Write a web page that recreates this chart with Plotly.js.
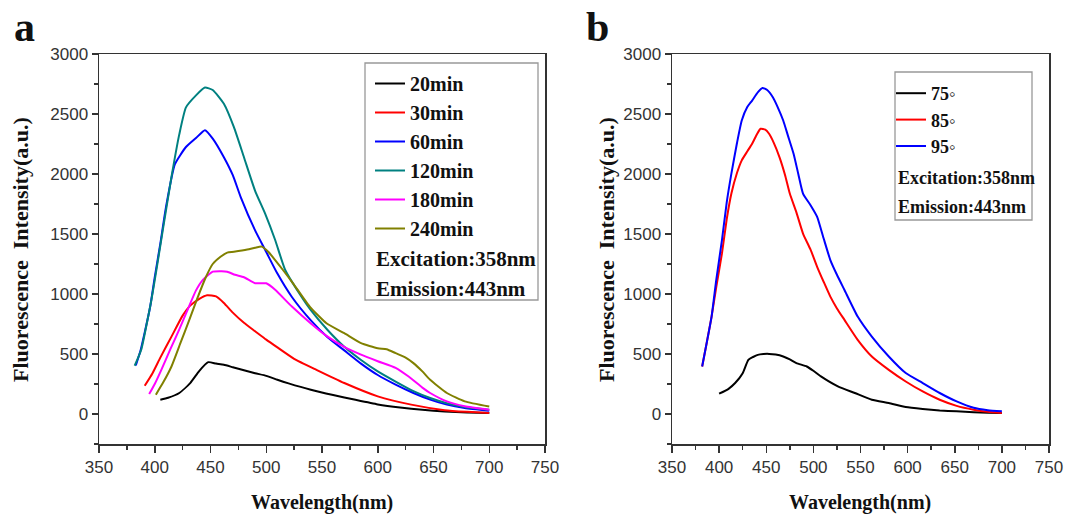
<!DOCTYPE html>
<html>
<head>
<meta charset="utf-8">
<script src="https://cdn.plot.ly/plotly-3.0.1.min.js"></script>
<style>html,body{margin:0;padding:0;background:#fff;}#chart{width:1065px;height:516px;}</style>
</head>
<body>
<div id="chart"></div>
<script>
// ---------- Panel a data (wavelength nm, intensity a.u.) ----------
const namesA = ["20min", "30min", "60min", "120min", "180min", "240min"];
const colorsA = ["#000000", "#ff0000", "#0000ff", "#008080", "#ff00ff", "#808000"];

const x20 = [405, 412, 422, 432, 440, 448, 455, 462, 470, 480, 490, 500, 510, 520, 540, 560, 580, 600, 620, 640, 660, 680, 700];
const y20 = [119, 135, 175, 260, 360, 432, 420, 410, 390, 365, 340, 318, 285, 255, 202, 158, 118, 80, 54, 35, 20, 12, 8];

const x30 = [391, 398, 405, 415, 425, 432, 440, 447, 455, 462, 470, 480, 490, 500, 510, 525, 545, 570, 600, 630, 660, 680, 700];
const y30 = [235, 340, 470, 645, 820, 905, 960, 990, 980, 925, 845, 760, 690, 620, 555, 460, 368, 258, 147, 78, 32, 18, 8];

const x60 = [383, 387, 391, 396, 400, 405, 410, 418, 428, 437, 445, 452, 462, 470, 477, 490, 500, 510, 523, 540, 555, 570, 585, 600, 616, 632, 647, 662, 678, 700];
const y60 = [405, 520, 680, 900, 1140, 1420, 1720, 2080, 2225, 2300, 2365, 2295, 2140, 1990, 1810, 1530, 1350, 1170, 975, 780, 640, 530, 420, 325, 245, 175, 120, 78, 50, 28];

const x120 = [382, 388, 393, 397, 402, 407, 415, 422, 428, 437, 445, 452, 462, 471, 480, 490, 499, 508, 517, 530, 540, 555, 570, 585, 600, 616, 632, 647, 662, 678, 700];
const y120 = [402, 540, 760, 950, 1230, 1520, 1975, 2330, 2555, 2655, 2720, 2700, 2585, 2390, 2140, 1860, 1670, 1450, 1200, 1000, 865, 700, 560, 450, 355, 270, 190, 133, 90, 58, 36];

const x180 = [395, 400, 406, 414, 422, 430, 437, 443, 452, 460, 465, 472, 480, 490, 500, 508, 523, 540, 555, 570, 585, 600, 616, 628, 640, 647, 662, 678, 700];
const y180 = [166, 250, 370, 540, 705, 880, 1030, 1116, 1186, 1190, 1186, 1160, 1140, 1090, 1089, 1035, 895, 755, 645, 560, 495, 440, 385, 310, 220, 175, 105, 64, 36];

const x240 = [401, 408, 415, 423, 431, 438, 446, 452, 459, 465, 471, 483, 490, 496, 502, 508, 515, 524, 539, 554, 570, 585, 600, 608, 616, 625, 632, 640, 647, 662, 678, 700];
const y240 = [161, 270, 396, 590, 784, 960, 1144, 1250, 1310, 1345, 1352, 1370, 1385, 1395, 1350, 1283, 1200, 1089, 895, 756, 673, 590, 548, 540, 507, 470, 424, 355, 285, 175, 105, 62];

// ---------- Panel b data ----------
const namesB = ["75◦", "85◦", "95◦"];
const colorsB = ["#000000", "#ff0000", "#0000ff"];

const x75 = [400, 410, 417, 425, 431, 436, 441, 447, 453, 460, 468, 475, 482, 493, 500, 508, 526, 544, 562, 580, 598, 616, 634, 652, 670, 685, 700];
const y75 = [169, 210, 258, 340, 451, 475, 493, 500, 501, 495, 479, 455, 424, 396, 360, 313, 230, 175, 119, 91, 58, 42, 30, 22, 14, 10, 8];

const x85 = [382, 387, 392, 397, 403, 408, 413, 419, 424, 430, 435, 440, 444, 449, 453, 458, 464, 470, 475, 482, 489, 497, 504, 511, 518, 525, 533, 547, 562, 580, 598, 616, 634, 652, 670, 685, 700];
const y85 = [396, 600, 812, 1060, 1338, 1620, 1837, 2010, 2114, 2190, 2252, 2330, 2377, 2370, 2335, 2260, 2141, 1990, 1837, 1680, 1504, 1370, 1227, 1100, 978, 880, 784, 618, 479, 368, 271, 188, 119, 68, 36, 18, 8];

const x95 = [382, 387, 392, 397, 403, 408, 413, 419, 424, 430, 435, 441, 446, 451, 457, 462, 468, 473, 479, 484, 489, 497, 504, 511, 518, 525, 533, 547, 562, 580, 598, 616, 634, 652, 670, 685, 700];
const y95 = [396, 600, 812, 1120, 1449, 1760, 2003, 2260, 2446, 2560, 2612, 2680, 2717, 2700, 2640, 2560, 2446, 2320, 2169, 2000, 1837, 1740, 1643, 1460, 1283, 1160, 1033, 812, 645, 479, 341, 258, 175, 105, 52, 32, 22];

const xTickVals = [350, 400, 450, 500, 550, 600, 650, 700, 750];
const yTickVals = [0, 500, 1000, 1500, 2000, 2500, 3000];
const infoText = ["Excitation:358nm", "Emission:443nm"];

// ---------- layout helpers ----------
const W = 1065, H = 516;
const px = v => v / W;
const py = v => 1 - v / H;

const seriesA = [[x20, y20], [x30, y30], [x60, y60], [x120, y120], [x180, y180], [x240, y240]];
const seriesB = [[x75, y75], [x85, y85], [x95, y95]];

const traces = [];
seriesA.forEach((s, i) => traces.push({
  x: s[0], y: s[1], type: "scatter", mode: "lines", name: namesA[i],
  line: {color: colorsA[i], width: 2, shape: "spline", smoothing: 0.5}, xaxis: "x", yaxis: "y", legend: "legend"
}));
seriesB.forEach((s, i) => traces.push({
  x: s[0], y: s[1], type: "scatter", mode: "lines", name: namesB[i],
  line: {color: colorsB[i], width: 2, shape: "spline", smoothing: 0.5}, xaxis: "x2", yaxis: "y2", legend: "legend2"
}));

const tickFont = {family: "Liberation Sans, Arial, sans-serif", size: 17, color: "#333"};
const serifBold = (size) => ({family: "Liberation Serif, Times New Roman, serif", size: size, color: "#111", weight: "bold"});

function xAxis(domain, anchor) {
  return {
    domain: domain, anchor: anchor, range: [350, 750], tickvals: xTickVals,
    ticks: "outside", ticklen: 7, tickwidth: 1.5, tickcolor: "#333",
    showline: true, linecolor: "#333", linewidth: 1.5, mirror: true,
    showgrid: false, zeroline: false, tickfont: tickFont,
    minor: {dtick: 25, tick0: 350, ticks: "outside", ticklen: 4, tickwidth: 1.5, tickcolor: "#333", showgrid: false}
  };
}
function yAxis(anchor) {
  return {
    domain: [py(444), py(54)], anchor: anchor, range: [-250, 3000], tickvals: yTickVals,
    ticks: "outside", ticklen: 6, tickwidth: 1.5, tickcolor: "#333",
    showline: true, linecolor: "#333", linewidth: 1.5, mirror: true,
    showgrid: false, zeroline: false, tickfont: tickFont,
    minor: {dtick: 250, tick0: 0, ticks: "outside", ticklen: 4, tickwidth: 1.5, tickcolor: "#333", showgrid: false}
  };
}

const annotations = [
  {text: "a", x: px(24), y: py(27), font: serifBold(42)},
  {text: "b", x: px(597), y: py(27), font: serifBold(42)},
  {text: "Wavelength(nm)", x: px(322), y: py(502), font: serifBold(20)},
  {text: "Wavelength(nm)", x: px(860), y: py(502), font: serifBold(20)},
  {text: "Fluorescence  Intensity(a.u.)", x: px(20), y: py(250), textangle: -90, font: serifBold(22)},
  {text: "Fluorescence  Intensity(a.u.)", x: px(606), y: py(250), textangle: -90, font: serifBold(22)},
  {text: infoText[0], x: px(374), y: py(259), xanchor: "left", font: serifBold(21)},
  {text: infoText[1], x: px(374), y: py(289), xanchor: "left", font: serifBold(21)},
  {text: infoText[0], x: px(896), y: py(178), xanchor: "left", font: serifBold(18)},
  {text: infoText[1], x: px(896), y: py(207), xanchor: "left", font: serifBold(18)}
].map(a => Object.assign({xref: "paper", yref: "paper", showarrow: false, xanchor: "center", yanchor: "middle"}, a));

const shapes = [
  {type: "rect", xref: "paper", yref: "paper", x0: px(365), x1: px(538), y0: py(300), y1: py(63), line: {color: "#999", width: 1.3}},
  {type: "rect", xref: "paper", yref: "paper", x0: px(895), x1: px(1032), y0: py(220), y1: py(72), line: {color: "#999", width: 1.3}}
];

const layout = {
  width: W, height: H, margin: {l: 0, r: 0, t: 0, b: 0},
  paper_bgcolor: "#fff", plot_bgcolor: "#fff", showlegend: true,
  xaxis: xAxis([px(99), px(545)], "y"),
  yaxis: yAxis("x"),
  xaxis2: xAxis([px(672), px(1049)], "y2"),
  yaxis2: yAxis("x2"),
  legend: {x: px(370), y: py(64), xanchor: "left", yanchor: "top", bgcolor: "rgba(0,0,0,0)", borderwidth: 0,
           font: serifBold(20), itemwidth: 30, tracegroupgap: 0},
  legend2: {x: px(891), y: py(75), xanchor: "left", yanchor: "top", bgcolor: "rgba(0,0,0,0)", borderwidth: 0,
            font: serifBold(18), itemwidth: 30, tracegroupgap: 0},
  annotations: annotations, shapes: shapes
};

Plotly.newPlot("chart", traces, layout, {staticPlot: true, displayModeBar: false});
</script>
</body>
</html>
